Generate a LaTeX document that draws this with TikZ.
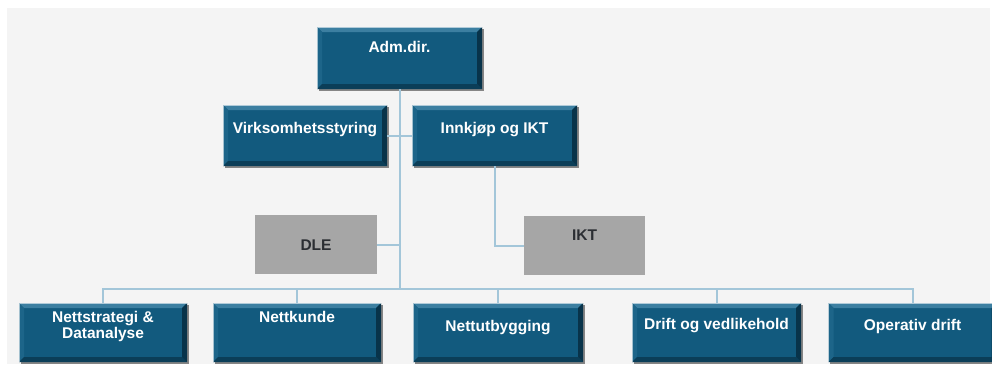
\documentclass[tikz,border=0pt]{standalone}
\usepackage{fontspec}
\setmainfont{Liberation Sans}
\usetikzlibrary{shadows}
\definecolor{boxblue}{HTML}{125A7E}
\definecolor{bevtop}{HTML}{3C7FA1}
\definecolor{bevleft}{HTML}{1D6589}
\definecolor{bevbot}{HTML}{0B3E58}
\definecolor{bevright}{HTML}{08334A}
\definecolor{linkblue}{HTML}{A3C6D9}
\definecolor{boxgray}{HTML}{A6A6A6}
\definecolor{graytext}{HTML}{2B2E33}
\definecolor{bgtex}{HTML}{F4F4F4}
\tikzset{
  boxgeom/.style n args={3}{minimum width=#1pt, inner xsep=0pt, inner ysep=0pt,
    text height=#3pt, text depth=#2pt-#3pt},
  bluebox/.style n args={3}{boxgeom={#1}{#2}{#3}, rectangle, fill=boxblue, text=white,
    font=\bfseries\fontsize{15.5}{16}\selectfont,
    drop shadow={shadow xshift=1.5pt, shadow yshift=-1.5pt, opacity=0.45, fill=black},
    path picture={
      \fill[bevtop] (path picture bounding box.north west) -- (path picture bounding box.north east)
        -- ([shift={(-5pt,-5pt)}]path picture bounding box.north east)
        -- ([shift={(5pt,-5pt)}]path picture bounding box.north west) -- cycle;
      \fill[bevleft] (path picture bounding box.north west) -- (path picture bounding box.south west)
        -- ([shift={(5pt,5pt)}]path picture bounding box.south west)
        -- ([shift={(5pt,-5pt)}]path picture bounding box.north west) -- cycle;
      \fill[bevbot] (path picture bounding box.south west) -- (path picture bounding box.south east)
        -- ([shift={(-5pt,5pt)}]path picture bounding box.south east)
        -- ([shift={(5pt,5pt)}]path picture bounding box.south west) -- cycle;
      \fill[bevright] (path picture bounding box.north east) -- (path picture bounding box.south east)
        -- ([shift={(-5pt,5pt)}]path picture bounding box.south east)
        -- ([shift={(-5pt,-5pt)}]path picture bounding box.north east) -- cycle;
      \draw[white, opacity=0.6, line width=0.8pt] (path picture bounding box.south west) -- (path picture bounding box.north west) -- (path picture bounding box.north east);
    }},
  graybox/.style n args={3}{boxgeom={#1}{#2}{#3}, rectangle, fill=boxgray, text=graytext,
    font=\bfseries\fontsize{15.5}{16}\selectfont},
  link/.style={draw=linkblue, line width=2pt}
}
\begin{document}
\begin{tikzpicture}[x=1pt, y=-1pt]
  \useasboundingbox (0,0) rectangle (992,364);
  \fill[white] (0,0) rectangle (992,364);
  \fill[bgtex] (7,8) rectangle (990,364);

  % nodes
  \node[bluebox={165}{62}{25}] (adm) at (399.5,58) {Adm.dir.};
  \node[bluebox={164}{61}{28}] (virk) at (305,135.5) {Virksomhetsstyring};
  \node[bluebox={165}{61}{28}] (innk) at (494.5,135.5) {Innkjøp og IKT};
  \node[graybox={122}{59}{35}] (dle) at (316,244.5) {DLE};
  \node[graybox={121}{59}{24}] (ikt) at (584.5,245.5) {IKT};

  \node[bluebox={168}{59}{19}] (b1) at (103,332.5)
    {\def\arraystretch{1}\begin{tabular}[t]{@{}c@{}}Nettstrategi \&\\Datanalyse\end{tabular}};
  \node[bluebox={168}{59}{19}] (b2) at (297,332.5) {Nettkunde};
  \node[bluebox={170}{59}{28}] (b3) at (498,332.5) {Nettutbygging};
  \node[bluebox={169}{59}{26}] (b4) at (716.5,332.5) {Drift og vedlikehold};
  \node[bluebox={168}{59}{27}] (b5) at (912.5,332.5) {Operativ drift};

  \coordinate (bus) at (400,289);

  % connectors
  \draw[link] (adm.south) -- (adm.south |- bus);
  \draw[link] (virk.east) -- (innk.west);
  \draw[link] (dle.east) -- (dle.east -| adm.south);
  \draw[link] (innk.south) -- (innk.south |- ikt.west) -- (ikt.west);
  \draw[link] (b1.north) -- (b1.north |- bus) -- (b5.north |- bus) -- (b5.north);
  \draw[link] (b2.north) -- (b2.north |- bus);
  \draw[link] (b3.north) -- (b3.north |- bus);
  \draw[link] (b4.north) -- (b4.north |- bus);
\end{tikzpicture}
\end{document}
